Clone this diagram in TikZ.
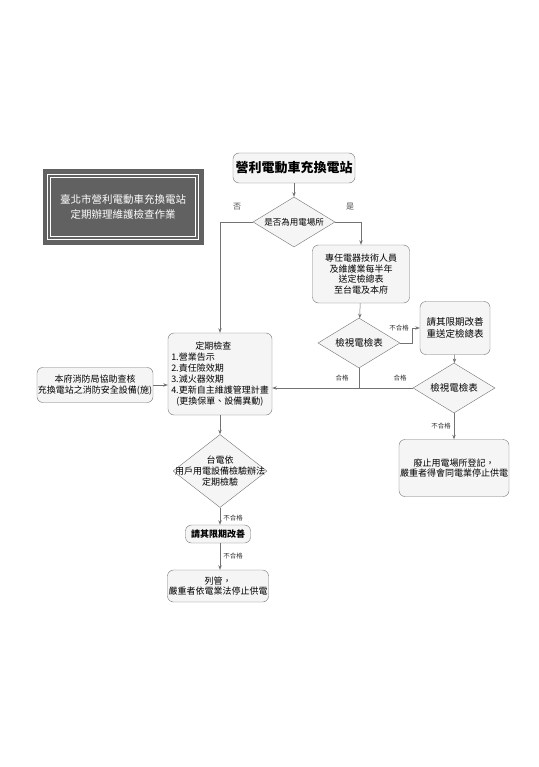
\documentclass[tikz,border=0pt]{standalone}
\usepackage{fontspec}
\setmainfont{Noto Sans CJK TC}
\usetikzlibrary{positioning,arrows.meta,shapes.geometric}

\begin{document}
\begin{tikzpicture}[x=1pt, y=-1pt,
  >={Stealth[length=1.6mm, width=1.2mm]},
  conn/.style={draw=black!55, line width=0.5pt},
  box/.style={draw=black!55, rounded corners=6pt, fill=black!4,
    font=\fontsize{9}{10.5}\selectfont, align=center, inner sep=1pt},
  dia/.style={diamond, draw=black!55, fill=black!4, inner sep=0pt},
  dtext/.style={font=\fontsize{9}{11}\selectfont, align=center, inner sep=0pt},
  glab/.style={font=\fontsize{6.5}{8}\selectfont, text=black!80, inner sep=1pt}]
\useasboundingbox[fill=white] (0,0) rectangle (538,767);

% title plate
\node[fill=black!62, minimum width=161, minimum height=75, inner sep=0pt] (plate) at (123,207) {};
\draw[white, line width=0.8pt] ([shift={(5,-5)}]plate.south west) rectangle ([shift={(-5,5)}]plate.north east);
\draw[white, line width=0.5pt] ([shift={(8,-8)}]plate.south west) rectangle ([shift={(-8,8)}]plate.north east);
\node[text=white, font=\fontsize{10.5}{15}\selectfont, align=center] (plt) at (plate) {臺北市營利電動車充換電站\\定期辦理維護檢查作業};

% nodes
\node[box, font=\fontsize{13}{15}\selectfont\bfseries, minimum width=122, minimum height=30] (top) at (294,168) {營利電動車充換電站};
\node[dia, minimum width=82, minimum height=50, label={[dtext, font=\fontsize{8.5}{10}\selectfont]center:是否為用電場所}] (d1) at (294,222) {};
\node[box, minimum width=97, minimum height=58] (rep) at (361,274) {專任電器技術人員\\及維護業每半年\\送定檢總表\\至台電及本府};
\node[dia, minimum width=82, minimum height=50, label={[dtext, font=\fontsize{9.5}{11}\selectfont]center:檢視電檢表}] (d2) at (359,343) {};
\node[box, font=\fontsize{9.5}{12}\selectfont, minimum width=70, minimum height=53] (fix) at (455,328) {請其限期改善\\重送定檢總表};
\node[dia, minimum width=82, minimum height=50, label={[dtext, font=\fontsize{9.5}{11}\selectfont]center:檢視電檢表}] (d3) at (454,388) {};
\node[box, minimum width=108, minimum height=57] (rev) at (454,468) {廢止用電場所登記，\\嚴重者得會同電業停止供電};
\node[box, minimum width=104, minimum height=82, align=left, font=\fontsize{9}{11}\selectfont] (chk) at (220,374)
  {\hspace*{24pt}定期檢查\\1.營業告示\\2.責任險效期\\3.滅火器效期\\4.更新自主維護管理計畫\\\hspace*{5pt}(更換保單、設備異動)};
\node[box, minimum width=115, minimum height=35] (fire) at (95,385) {本府消防局協助查核\\充換電站之消防安全設備(施)};
\node[dia, minimum width=94, minimum height=73, label={[dtext]center:台電依\\用戶用電設備檢驗辦法\\定期檢驗}] (d4) at (220,471) {};
\node[box, font=\fontsize{9}{10}\selectfont\bfseries, minimum width=65, minimum height=18] (fix2) at (218,534) {請其限期改善};
\node[box, minimum width=99, minimum height=32] (cut) at (218,586) {列管，\\嚴重者依電業法停止供電};

% connectors
\draw[conn, ->] (top) -- (d1);
\draw[conn, ->] (d1.west) -| (chk.north);
\draw[conn, ->] (d1.east) -| (rep.north);
\draw[conn, ->] (rep) -- (d2);
\draw[conn, ->] (d2.east) -- ++(12,0) |- node[glab, pos=0.5, left=2pt] {不合格} (fix.west);
\draw[conn, ->] (fix) -- (d3);
\draw[conn, ->] (d3.west) -- (chk.east |- d3.west);
\draw[conn] (d2.south) -- (d2.south |- d3.west);
\node[glab] (ok1) at (342,378) {合格};
\node[glab] (ok2) at (400,378) {合格};
\draw[conn, ->] (d3) -- node[glab, left=2pt] {不合格} (rev);
\draw[conn, ->] (fire) -- (chk.west |- fire);
\draw[conn, ->] (chk) -- (d4);
\draw[conn, ->] (d4) -- node[glab, right=2pt, pos=0.6] {不合格} (fix2.north -| d4);
\draw[conn, ->] (fix2.south -| d4) -- node[glab, right=2pt] {不合格} (cut.north -| d4);
\node[font=\fontsize{8}{10}\selectfont, text=black!70] (no) at (237,207) {否};
\node[font=\fontsize{8}{10}\selectfont, text=black!70] (yes) at (350,207) {是};
\end{tikzpicture}
\end{document}
